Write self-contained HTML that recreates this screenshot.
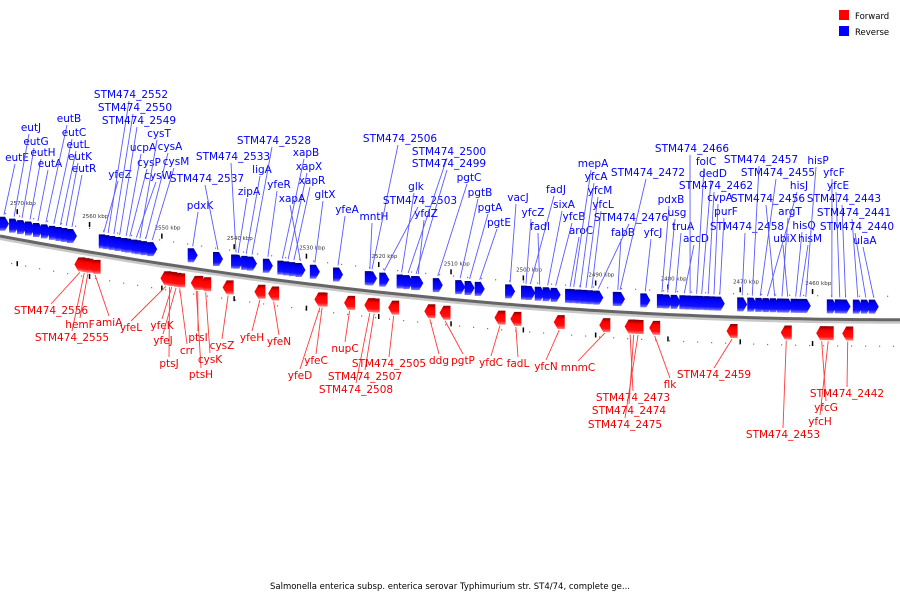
<!DOCTYPE html>
<html><head><meta charset="utf-8"><style>
body{margin:0;background:#fff;}
svg{display:block;font-family:"DejaVu Sans","Liberation Sans",sans-serif;}
</style></head><body>
<svg id="chart" width="900" height="600" viewBox="0 0 900 600">
<defs>
<linearGradient id="gb" x1="0" y1="0" x2="0" y2="1"><stop offset="0" stop-color="#00008a"/><stop offset="0.3" stop-color="#0000ff"/><stop offset="0.75" stop-color="#1010ff"/><stop offset="1" stop-color="#8080ff"/></linearGradient>
<linearGradient id="gr" x1="0" y1="0" x2="0" y2="1"><stop offset="0" stop-color="#8a0000"/><stop offset="0.3" stop-color="#ff0000"/><stop offset="0.75" stop-color="#ff1010"/><stop offset="1" stop-color="#ff8080"/></linearGradient>
</defs>
<g>
<rect x="839" y="10" width="10" height="10" fill="#ff0000"/>
<text x="855" y="19" font-size="8.5">Forward</text>
<rect x="839" y="26" width="10" height="10" fill="#0000ff"/>
<text x="855" y="35" font-size="8.5">Reverse</text>
</g>
<text x="450" y="589" font-size="8.5" text-anchor="middle">Salmonella enterica subsp. enterica serovar Typhimurium str. ST4/74, complete ge...</text>
</svg>
<script>
const tickKbp=[2570,2560,2550,2540,2530,2520,2510,2500,2490,2480,2470,2460];
const blueNames=["eutE","eutJ","eutG","eutH","eutA","eutB","eutC","eutL","eutK","eutR","yfeZ","STM474_2552","STM474_2550","STM474_2549","ucpA","cysP","cysW","cysT","cysA","cysM","pdxK","STM474_2537","STM474_2533","zipA","ligA","STM474_2528","yfeR","xapB","xapX","xapR","xapA","gltX","yfeA","mntH","STM474_2506","STM474_2503","glk","STM474_2500","STM474_2499","yfdZ","pgtC","pgtB","pgtA","pgtE","vacJ","yfcZ","fadJ","fadI","sixA","yfcB","aroC","mepA","yfcA","yfcM","yfcL","STM474_2476","fabB","STM474_2472","yfcJ","pdxB","usg","truA","accD","STM474_2466","folC","dedD","STM474_2462","cvpA","purF","STM474_2458","STM474_2457","STM474_2455","hisJ","STM474_2456","argT","ubiX","hisQ","hisM","hisP","yfcF","yfcE","STM474_2443","STM474_2441","STM474_2440","ulaA"];
const blueKbp=[2571.8,2570.4,2569.3,2568.2,2567.1,2566.0,2564.9,2564.0,2563.2,2562.4,2558.0,2557.4,2556.6,2555.8,2554.9,2554.4,2553.5,2553.0,2552.2,2551.3,2545.7,2542.2,2539.7,2539.4,2538.3,2537.5,2535.3,2533.3,2532.5,2531.7,2530.8,2528.8,2525.6,2521.2,2520.9,2519.2,2516.8,2515.9,2514.8,2514.5,2511.8,2508.7,2507.4,2506.0,2501.8,2499.6,2499.0,2497.7,2496.6,2495.5,2493.5,2493.0,2492.1,2491.3,2490.5,2489.6,2486.9,2486.6,2483.1,2480.8,2480.0,2478.9,2477.7,2476.9,2476.0,2475.3,2474.4,2473.6,2472.8,2469.7,2468.3,2467.2,2466.2,2465.2,2464.2,2463.4,2462.3,2461.7,2460.9,2457.3,2456.2,2455.4,2453.7,2452.6,2451.5];
const blueLabelXY=[[17,161],[31,131],[36,145],[43,156],[50,167],[69,122],[74,136],[78,148],[80,160],[84,172],[120,178],[131,98],[135,111],[139,124],[143,151],[149,166],[158,179],[159,137],[170,150],[176,165],[200,209],[207,182],[233,160],[249,195],[262,173],[274,144],[279,188],[306,156],[309,170],[312,184],[292,202],[325,198],[347,213],[374,220],[400,142],[420,204],[416,190],[449,155],[449,167],[426,217],[469,181],[480,196],[490,211],[499,226],[518,201],[533,216],[556,193],[540,230],[564,208],[574,220],[581,234],[593,167],[596,180],[600,194],[603,208],[631,221],[623,236],[648,176],[653,236],[671,203],[677,216],[683,230],[696,242],[692,152],[706,165],[713,177],[716,189],[720,201],[726,215],[747,230],[761,163],[778,176],[799,189],[768,202],[790,215],[785,242],[804,229],[810,242],[818,164],[834,176],[838,189],[844,202],[854,216],[857,230],[865,244]];
const redNames=["STM474_2556","STM474_2555","hemF","amiA","yfeL","ptsJ","yfeK","yfeJ","crr","ptsH","ptsI","cysK","cysZ","yfeH","yfeN","yfeD","yfeC","nupC","STM474_2508","STM474_2507","STM474_2505","ddg","pgtP","yfdC","fadL","yfcN","mnmC","STM474_2473","STM474_2474","STM474_2475","flk","STM474_2459","STM474_2453","yfcG","yfcH","STM474_2442"];
const redKbp=[2561.3,2560.7,2560.2,2559.2,2549.4,2548.9,2548.6,2548.0,2547.5,2545.2,2545.0,2543.9,2540.8,2536.4,2534.5,2528.1,2527.8,2524.0,2521.2,2520.6,2517.9,2512.9,2510.8,2503.2,2501.0,2495.0,2488.7,2485.2,2484.7,2484.1,2481.8,2471.1,2463.6,2458.7,2457.8,2455.1];
const redLabelXY=[[51,314],[72,341],[80,328],[109,326],[131,331],[169,367],[162,329],[163,344],[187,354],[201,378],[198,341],[210,363],[222,349],[252,341],[279,345],[300,379],[316,364],[345,352],[356,393],[365,380],[389,367],[439,364],[463,364],[491,366],[518,367],[546,370],[578,371],[633,401],[629,414],[625,428],[670,388],[714,378],[783,438],[826,411],[820,425],[847,397]];

const NS="http://www.w3.org/2000/svg";
const svg=document.getElementById('chart');
function xScale(k){return 17+(2570-k)*7.23;}
function curveY(x){return 236+0.188*x-1.056e-4*x*x;}
function mk(tag,attrs,parent){const e=document.createElementNS(NS,tag);for(const a in attrs)e.setAttribute(a,attrs[a]);(parent||svg).appendChild(e);return e;}

let d="",d2="";
for(let x=0;x<=900;x+=10){d+=(x?"L":"M")+x+","+curveY(x).toFixed(1);d2+=(x?"L":"M")+x+","+(curveY(x)+2.5).toFixed(1);}
const sh=mk('path',{d:d2,stroke:'#c8c8c8','stroke-width':3,fill:'none'});


const bb=mk('path',{d:d,stroke:'#666','stroke-width':3,fill:'none'});



tickKbp.forEach(k=>{
  const x=xScale(k),y=curveY(x);
  const t=mk('rect',{x:x-0.5,y:y-30,width:1.5,height:5,fill:'#000'});
  
  
  const t2=mk('rect',{x:x-0.5,y:y+22,width:1.5,height:5,fill:'#000'});
  
  
  const l=mk('text',{x:x-7,y:y-34,'font-size':5.5,fill:'#333'});
  l.textContent=k+" kbp";
  
  
});
for(let x=5;x<900;x+=14){
  const y=curveY(x);
  const a=mk('rect',{x:x,y:y-24,width:1.2,height:1.2,fill:'#777'});
  
  
  const b=mk('rect',{x:x+6,y:y+26,width:1.2,height:1.2,fill:'#777'});
  
  
}

blueNames.forEach((n,i)=>{
  const x=xScale(blueKbp[i]),y=curveY(x);
  const [lx,ly]=blueLabelXY[i];
  const ln=mk('line',{x1:lx-2,y1:ly+3,x2:x,y2:y-22,stroke:'#5a5aff','stroke-width':0.9});
  
  
  const t=y-20,b=y-6,w=10;
  const g=mk('path',{d:`M${x-w/2},${t}L${x+w/2-4},${t}L${x+w/2},${(t+b)/2}L${x+w/2-4},${b}L${x-w/2},${b}Z`,fill:'url(#gb)'});
  
  
  const tx=mk('text',{x:lx,y:ly,'font-size':10.5,fill:'#0000ff','text-anchor':'middle'});
  tx.textContent=n;
  
  
});
redNames.forEach((n,i)=>{
  const x=xScale(redKbp[i]),y=curveY(x);
  const [lx,ly]=redLabelXY[i];
  const ln=mk('line',{x1:lx,y1:ly-10,x2:x,y2:y+22,stroke:'#ff3a3a','stroke-width':0.9});
  
  
  const t=y+7,b=y+21,w=11;
  const g=mk('path',{d:`M${x+w/2},${t}L${x-w/2+4},${t}L${x-w/2},${(t+b)/2}L${x-w/2+4},${b}L${x+w/2},${b}Z`,fill:'url(#gr)'});
  
  
  const tx=mk('text',{x:lx,y:ly,'font-size':10.5,fill:'#ee0000','text-anchor':'middle'});
  tx.textContent=n;
  
  
});
</script>
</body></html>
